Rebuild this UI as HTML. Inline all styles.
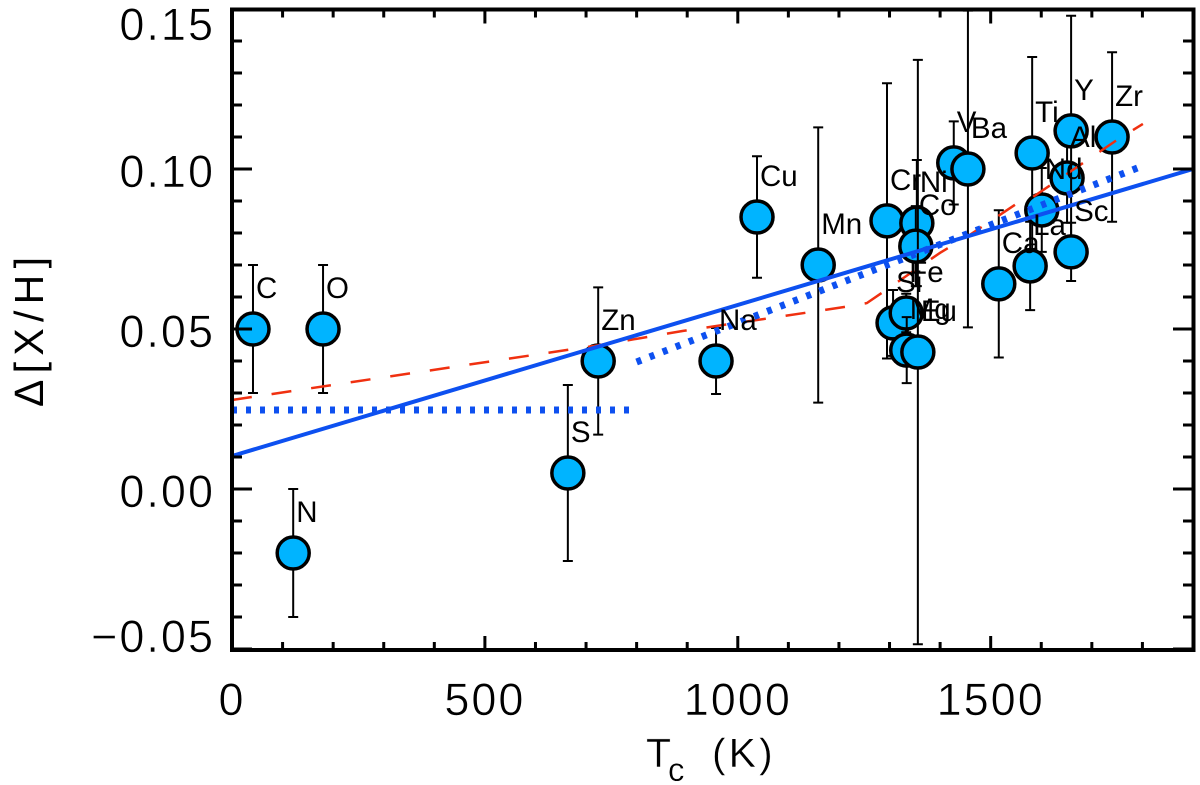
<!DOCTYPE html>
<html lang="en">
<head>
<meta charset="utf-8">
<title>Abundance vs condensation temperature</title>
<style>
html,body{margin:0;padding:0;background:#fff;width:1200px;height:785px;overflow:hidden}
svg{display:block;font-family:"Liberation Sans",sans-serif}
</style>
</head>
<body>
<svg id="chart" xmlns="http://www.w3.org/2000/svg" width="1200" height="785" viewBox="0 0 1200 785">
  <rect width="1200" height="785" fill="#fff"/>
  <g id="lines"></g>
  <g id="points"></g>
  <g id="labels"></g>
  <g id="axes"></g>
  <text transform="translate(43,407) rotate(-90)" font-size="41" textLength="150" lengthAdjust="spacing" fill="#000">Δ[X/H]</text>
  <text fill="#000" font-size="41" stroke="#fff" stroke-width="0.4"><tspan x="646" y="767">T</tspan><tspan x="668" y="781" font-size="33">c</tspan><tspan x="712" y="767" letter-spacing="3">(K)</tspan></text>
</svg>
<script>
const elements = ['C','O','N','S','Zn','Na','Cu','Mn','Cr','Ni','Co','Si','Fe','Mg','Eu','V','Ba','Ca','La','Ti','Nd','Al','Y','Sc','Zr'];
const condensationT = [41.5,180,121,664,724,957,1038,1159,1295,1354,1352,1307,1333,1334,1356,1427,1455,1516,1578,1582,1601,1651,1659,1659,1740];
const abundance = [.05,.05,-.02,.005,.04,.04,.085,.07,.0838,.0831,.0759,.0519,.055,.0434,.0428,.1019,.1,.0641,.0697,.105,.0872,.0972,.1119,.0741,.11];
const errors = [.02,.02,.02,.0275,.023,.0103,.019,.043,.043,.0197,.0125,.0103,.006,.0103,.0913,.013,.0495,.023,.0138,.03,.0131,.014,.036,.0091,.0265];
const solidFitT = [0,1900];
const solidFitY = [.0103,.1];
const dottedLowT = [0,790];
const dottedLowY = [.0247,.0247];
const dottedHighT = [800,1790];
const dottedHighY = [.0397,.1003];
const redCurveT = [0,728,892,1050,1212,1255,1285,1327,1400,1453,1548,1584,1683,1750,1801];
const redCurveY = [.0278,.045,.0494,.0531,.0569,.0581,.0613,.0659,.0738,.0788,.0888,.0913,.1019,.1091,.1141];
const xTickLabels = ['0','500','1000','1500'];
const xTickValues = [0,500,1000,1500];
const yTickLabels = ['\u22120.05','0.00','0.05','0.10','0.15'];
const yTickValues = [-.05,0,.05,.1,.15];
const xMinorValues = [100,200,300,400,600,700,800,900,1100,1200,1300,1400,1600,1700,1800];
const yMinorValues = [-.04,-.03,-.02,-.01,.01,.02,.03,.04,.06,.07,.08,.09,.11,.12,.13,.14];

const NS = 'http://www.w3.org/2000/svg';
const xScale = t => 232 + t * (961 / 1900);
const yScale = v => 489 - v * 3200;
function add(parent, tag, attrs, text) {
  const el = document.createElementNS(NS, tag);
  for (const k in attrs) el.setAttribute(k, attrs[k]);
  if (text !== undefined) el.textContent = text;
  parent.appendChild(el);
  return el;
}
function pathFrom(ts, vs) {
  return ts.map((t, i) => (i ? 'L' : 'M') + xScale(t).toFixed(1) + ' ' + yScale(vs[i]).toFixed(1)).join(' ');
}
const linesG = document.getElementById('lines');
const pointsG = document.getElementById('points');
const labelsG = document.getElementById('labels');
const axesG = document.getElementById('axes');

// error bars + markers (drawn point by point, so later points overlap earlier ones)
elements.forEach((name, i) => {
  const x = xScale(condensationT[i]);
  const y = yScale(abundance[i]);
  const yHi = yScale(abundance[i] + errors[i]);
  const yLo = yScale(abundance[i] - errors[i]);
  const bar = add(pointsG, 'path', {
    d: `M${x} ${yHi} V${yLo} M${x - 5} ${yHi} H${x + 5} M${x - 5} ${yLo} H${x + 5}`,
    stroke: '#000', 'stroke-width': 2, fill: 'none'
  });
  
  
  const dot = add(pointsG, 'circle', { cx: x, cy: y, r: 16, fill: '#00b4ff', stroke: '#000', 'stroke-width': 3.5 });
  
  
  const lab = add(labelsG, 'text', { x: x + 3, y: y - 31, 'font-size': 29.5, fill: '#000' }, name);
  
  
});

// fit lines
const red = add(linesG, 'path', { d: pathFrom(redCurveT, redCurveY), fill: 'none', stroke: '#f03010', 'stroke-width': 2.5, 'stroke-dasharray': '20 20' });


const dotLow = add(linesG, 'path', { d: pathFrom(dottedLowT, dottedLowY), fill: 'none', stroke: '#0d50f0', 'stroke-width': 7, 'stroke-dasharray': '5 9' });


const dotHigh = add(linesG, 'path', { d: pathFrom(dottedHighT, dottedHighY), fill: 'none', stroke: '#0d50f0', 'stroke-width': 7, 'stroke-dasharray': '5 9' });


const solid = add(linesG, 'path', { d: pathFrom(solidFitT, solidFitY), fill: 'none', stroke: '#0d50f0', 'stroke-width': 4 });


// lines sit above the markers but below labels
pointsG.parentNode.insertBefore(pointsG, linesG);

// frame
const frame = add(axesG, 'rect', { x: 232, y: 9.5, width: 961.5, height: 640.5, fill: 'none', stroke: '#000', 'stroke-width': 4 });



// ticks
function xTick(v, len, name) {
  const x = xScale(v);
  const t = add(axesG, 'path', { d: `M${x} 650 V${650 - len} M${x} 9.5 V${9.5 + len}`, stroke: '#000', 'stroke-width': 3 });
  
  
}
function yTick(v, len, name) {
  const y = yScale(v);
  const t = add(axesG, 'path', { d: `M232 ${y} H${232 + len} M1193 ${y} H${1193 - len}`, stroke: '#000', 'stroke-width': 3 });
  
  
}
xMinorValues.forEach(v => xTick(v, 8, 'x-minor-tick'));
yMinorValues.forEach(v => yTick(v, 10, 'y-minor-tick'));
xTickValues.forEach((v, i) => {
  xTick(v, 14, 'x-major-tick');
  const lab = add(axesG, 'text', { x: xScale(v), y: 715, 'font-size': 45, 'text-anchor': 'middle', 'letter-spacing': 2, fill: '#000', stroke: '#fff', 'stroke-width': 0.6 }, xTickLabels[i]);
  
  
});
yTickValues.forEach((v, i) => {
  yTick(v, 20, 'y-major-tick');
  const base = Math.min(652, Math.max(40, yScale(v) + 18));
  const lab = add(axesG, 'text', { x: 215, y: base, 'font-size': 45, 'text-anchor': 'end', 'letter-spacing': 2, fill: '#000', stroke: '#fff', 'stroke-width': 0.6 }, yTickLabels[i]);
  
  
});
</script>
</body>
</html>
